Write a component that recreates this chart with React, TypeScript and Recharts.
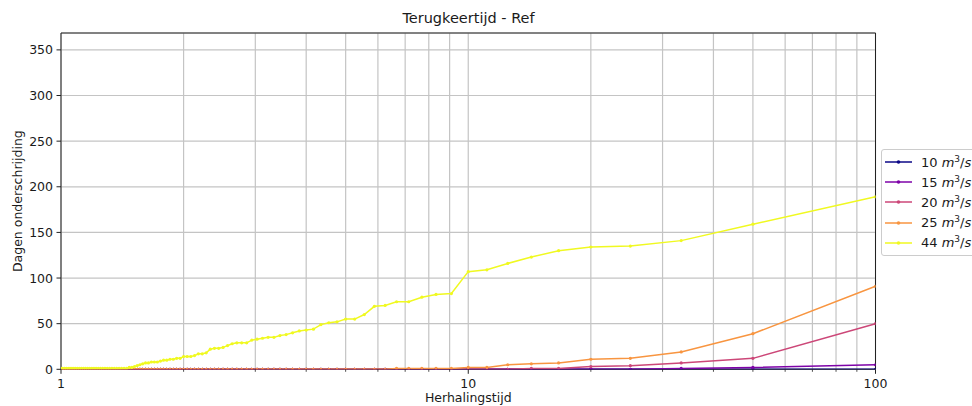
import React from 'react';
import { LineChart, Line, XAxis, YAxis, CartesianGrid, ReferenceArea, Legend } from 'recharts';

// Return periods (years), ascending
const returnPeriods = [
  1, 1.0101, 1.0204, 1.0309, 1.0417, 1.0526, 1.0638, 1.0753, 1.087, 1.0989,
  1.1111, 1.1236, 1.1364, 1.1494, 1.1628, 1.1765, 1.1905, 1.2048, 1.2195, 1.2346,
  1.25, 1.2658, 1.2821, 1.2987, 1.3158, 1.3333, 1.3514, 1.3699, 1.3889, 1.4085,
  1.4286, 1.4493, 1.4706, 1.4925, 1.5152, 1.5385, 1.5625, 1.5873, 1.6129, 1.6393,
  1.6667, 1.6949, 1.7241, 1.7544, 1.7857, 1.8182, 1.8519, 1.8868, 1.9231, 1.9608,
  2, 2.0408, 2.0833, 2.1277, 2.1739, 2.2222, 2.2727, 2.3256, 2.381, 2.439,
  2.5, 2.5641, 2.6316, 2.7027, 2.7778, 2.8571, 2.9412, 3.0303, 3.125, 3.2258,
  3.3333, 3.4483, 3.5714, 3.7037, 3.8462, 4, 4.1667, 4.3478, 4.5455, 4.7619,
  5, 5.2632, 5.5556, 5.8824, 6.25, 6.6667, 7.1429, 7.6923, 8.3333, 9.0909,
  10, 11.1111, 12.5, 14.2857, 16.6667, 20, 25, 33.3333, 50, 100,
];

const q10 = [
  0, 0, 0, 0, 0, 0, 0, 0, 0, 0,
  0, 0, 0, 0, 0, 0, 0, 0, 0, 0,
  0, 0, 0, 0, 0, 0, 0, 0, 0, 0,
  0, 0, 0, 0, 0, 0, 0, 0, 0, 0,
  0, 0, 0, 0, 0, 0, 0, 0, 0, 0,
  0, 0, 0, 0, 0, 0, 0, 0, 0, 0,
  0, 0, 0, 0, 0, 0, 0, 0, 0, 0,
  0, 0, 0, 0, 0, 0, 0, 0, 0, 0,
  0, 0, 0, 0, 0, 0, 0, 0, 0, 0,
  0, 0, 0, 0, 0, 0, 0, 0, 0, 0,
];

const q15 = [
  0, 0, 0, 0, 0, 0, 0, 0, 0, 0,
  0, 0, 0, 0, 0, 0, 0, 0, 0, 0,
  0, 0, 0, 0, 0, 0, 0, 0, 0, 0,
  0, 0, 0, 0, 0, 0, 0, 0, 0, 0,
  0, 0, 0, 0, 0, 0, 0, 0, 0, 0,
  0, 0, 0, 0, 0, 0, 0, 0, 0, 0,
  0, 0, 0, 0, 0, 0, 0, 0, 0, 0,
  0, 0, 0, 0, 0, 0, 0, 0, 0, 0,
  0, 0, 0, 0, 0, 0, 0, 0, 0, 0,
  0, 0, 0, 0, 0, 0, 0, 1, 2, 5,
];

const q20 = [
  0, 0, 0, 0, 0, 0, 0, 0, 0, 0,
  0, 0, 0, 0, 0, 0, 0, 0, 0, 0,
  0, 0, 0, 0, 0, 0, 0, 0, 0, 0,
  0, 0, 0, 0, 0, 0, 0, 0, 0, 0,
  0, 0, 0, 0, 0, 0, 0, 0, 0, 0,
  0, 0, 0, 0, 0, 0, 0, 0, 0, 0,
  0, 0, 0, 0, 0, 0, 0, 0, 0, 0,
  0, 0, 0, 0, 0, 0, 0, 0, 0, 0,
  0, 0, 0, 0, 0, 0, 0, 0, 0, 0,
  0, 0, 0, 1, 1, 3, 4, 7, 12, 50,
];

const q25 = [
  0, 0, 0, 0, 0, 0, 0, 0, 0, 0,
  0, 0, 0, 0, 0, 0, 0, 0, 0, 0,
  0, 0, 0, 0, 0, 0, 0, 0, 0, 0,
  0, 0, 0, 0, 0, 0, 0, 0, 0, 0,
  0, 0, 0, 0, 0, 0, 0, 0, 0, 0,
  0, 0, 0, 0, 0, 0, 0, 0, 0, 0,
  0, 0, 0, 0, 0, 0, 0, 0, 0, 0,
  0, 0, 0, 0, 0, 0, 0, 0, 0, 0,
  0, 0, 0, 0, 0, 1, 1, 1, 1, 1,
  2, 2, 5, 6, 7, 11, 12, 19, 39, 91,
];

const q44 = [
  1, 1, 1, 1, 1, 1, 1, 1, 1, 1,
  1, 1, 1, 1, 1, 1, 1, 1, 1, 1,
  1, 1, 1, 1, 1, 1, 1, 1, 1, 1,
  1, 1, 2, 2, 3, 4, 5, 6, 7, 7,
  8, 8, 8, 9, 10, 10, 11, 11, 12, 12,
  14, 14, 14, 15, 17, 17, 18, 22, 23, 23,
  24, 26, 28, 29, 29, 29, 32, 33, 34, 35,
  35, 37, 38, 40, 42, 43, 44, 49, 51, 52,
  55, 55, 60, 69, 70, 74, 74, 79, 82, 83,
  107, 109, 116, 123, 130, 134, 135, 141, 159, 189,
];

const seriesKeys = ['q10', 'q15', 'q20', 'q25', 'q44'];
const seriesLabels = ['10', '15', '20', '25', '44'];
const seriesColors = ['#0d0887', '#7e03a8', '#cc4778', '#f89540', '#f0f921'];

const xTicks = [1, 2, 3, 4, 5, 6, 7, 8, 9, 10, 20, 30, 40, 50, 60, 70, 80, 90, 100];
const xMajor = [1, 10, 100];
const yTicks = [0, 50, 100, 150, 200, 250, 300, 350];

const rows = returnPeriods.map((t, i) => ({
  t,
  q10: q10[i],
  q15: q15[i],
  q20: q20[i],
  q25: q25[i],
  q44: q44[i],
}));

const FONT = 'DejaVu Sans';
const TXT = '#1a1a1a';

const renderXTick = (props: any) => {
  const { x, y, payload } = props;
  const major = xMajor.includes(payload.value);
  return (
    <g>
      <line x1={x} x2={x} y1={y} y2={y + (major ? 4.5 : 2.5)} stroke="#222" strokeWidth={major ? 1 : 0.8} />
      {major && (
        <text x={x} y={y + 18.7} textAnchor="middle" fontSize={12.5} fontFamily={FONT} fill={TXT}>
          {payload.value}
        </text>
      )}
    </g>
  );
};

const renderYTick = (props: any) => {
  const { x, y, payload } = props;
  return (
    <g>
      <line x1={x - 4.5} x2={x} y1={y} y2={y} stroke="#222" strokeWidth={1} />
      <text x={x - 8} y={y + 4.5} textAnchor="end" fontSize={12.5} fontFamily={FONT} fill={TXT}>
        {payload.value}
      </text>
    </g>
  );
};

const renderXLabel = (props: any) => {
  const vb = props.viewBox;
  return (
    <text x={vb.x + vb.width / 2} y={402} textAnchor="middle" fontSize={12.5} fontFamily={FONT} fill={TXT}>
      Herhalingstijd
    </text>
  );
};

const renderYLabel = (props: any) => {
  const vb = props.viewBox;
  const cx = 22;
  const cy = vb.y + vb.height / 2;
  return (
    <text x={cx} y={cy} transform={`rotate(-90 ${cx} ${cy})`} textAnchor="middle" fontSize={12.5} fontFamily={FONT} fill={TXT}>
      Dagen onderschrijding
    </text>
  );
};

const renderLegend = (props: any) => {
  const payload = props.payload || [];
  return (
    <div
      style={{
        border: '1px solid #cccccc',
        borderRadius: 3,
        background: 'rgba(255,255,255,0.8)',
        padding: '2px 0 2px 3px',
        width: 110,
        boxSizing: 'border-box',
        fontFamily: FONT,
        fontSize: 13,
        color: TXT,
      }}
    >
      {payload.map((p: any, i: number) => (
        <div key={i} style={{ display: 'flex', alignItems: 'center', height: 20.2 }}>
          <svg width={27} height={8} style={{ display: 'block' }}>
            <line x1={0} x2={27} y1={4} y2={4} stroke={p.color} strokeWidth={1.5} />
            <circle cx={13.5} cy={4} r={1.8} fill={p.color} />
          </svg>
          <span style={{ marginLeft: 9, whiteSpace: 'nowrap' }}>
            {p.value} <i>m</i>
            <span style={{ fontSize: 9, position: 'relative', top: -5 }}>3</span>/<i>s</i>
          </span>
        </div>
      ))}
    </div>
  );
};

export default function App() {
  return (
    <div style={{ position: 'absolute', left: 0, top: 0, width: 972, height: 406, background: '#fff', overflow: 'hidden' }}>
      <div
        style={{
          position: 'absolute',
          left: 61,
          width: 815,
          top: 10,
          lineHeight: '16px',
          textAlign: 'center',
          fontFamily: FONT,
          fontSize: 14.5,
          color: TXT,
        }}
      >
        Terugkeertijd - Ref
      </div>
      <LineChart width={972} height={406} data={rows} margin={{ top: 33, right: 96.5, bottom: 0, left: 0 }}>
        <CartesianGrid stroke="#c4c4c4" strokeWidth={1.2} />
        <XAxis
          dataKey="t"
          type="number"
          scale="log"
          domain={[1, 100]}
          ticks={xTicks}
          interval={0}
          allowDataOverflow
          height={36.7}
          tickSize={0}
          tickMargin={0}
          axisLine={false}
          tick={renderXTick}
          label={{ content: renderXLabel }}
        />
        <YAxis
          type="number"
          domain={[0, 368.5]}
          ticks={yTicks}
          interval={0}
          allowDataOverflow
          width={61}
          tickSize={0}
          tickMargin={0}
          axisLine={false}
          tick={renderYTick}
          label={{ content: renderYLabel }}
        />
        <ReferenceArea x1={1} x2={100} y1={0} y2={368.5} fill="none" stroke="#222" strokeWidth={1} ifOverflow="visible" />
        {seriesKeys.map((k, i) => (
          <Line
            key={k}
            dataKey={k}
            name={seriesLabels[i]}
            stroke={seriesColors[i]}
            strokeWidth={1.5}
            dot={{ r: 1.6, fill: seriesColors[i], stroke: seriesColors[i], strokeWidth: 0 }}
            activeDot={false}
            isAnimationActive={false}
          />
        ))}
        <Legend
          layout="vertical"
          align="center"
          verticalAlign="middle"
          content={renderLegend}
          wrapperStyle={{ left: 881, top: 149, width: 110 }}
        />
      </LineChart>
    </div>
  );
}
